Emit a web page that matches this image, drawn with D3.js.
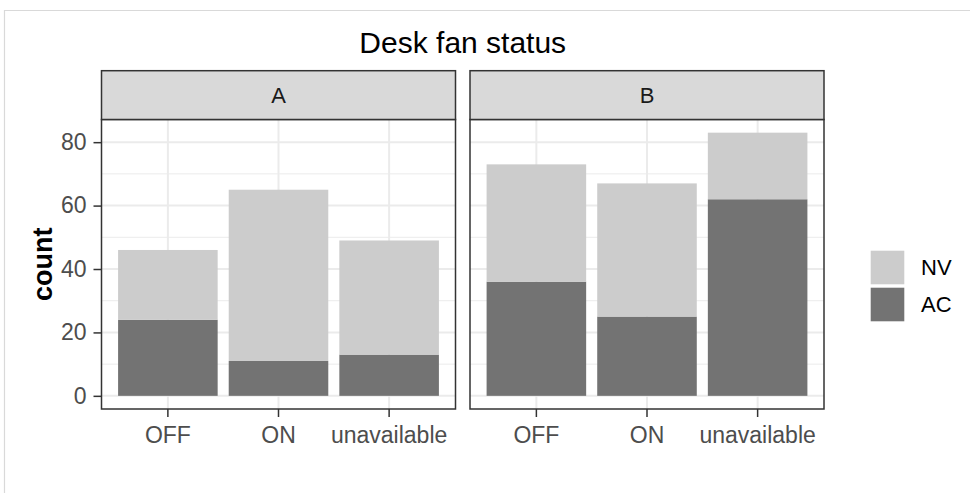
<!DOCTYPE html>
<html>
<head>
<meta charset="utf-8">
<script src="https://cdn.jsdelivr.net/npm/d3@7"></script>
<style>
  html, body { margin: 0; padding: 0; background: #ffffff; }
  svg { display: block; font-family: "Liberation Sans", Arial, sans-serif; }
</style>
</head>
<body>
<svg id="chart" width="970" height="493"></svg>
<script>
// ---- data ----
const title = "Desk fan status";
const panels = ["A", "B"];
const categories = ["OFF", "ON", "unavailable"];
const seriesNames = ["NV", "AC"];          // legend order (top to bottom)
const acA = [24, 11, 13];
const nvA = [22, 54, 36];
const acB = [36, 25, 62];
const nvB = [37, 42, 21];
const yTicks = [0, 20, 40, 60, 80];
const yMinor = [10, 30, 50, 70];
const yLabel = "count";

const panelData = {
  A: { AC: acA, NV: nvA },
  B: { AC: acB, NV: nvB }
};
const colors = { NV: "#CCCCCC", AC: "#737373" };

// ---- layout ----
const svg = d3.select("#chart");
const W = 970, H = 493;
const panelTop = 119.5, panelBottom = 409;
const stripTop = 70.7;
const panelX = { A: [101.5, 455.5], B: [470, 824] };

// outer light frame
svg.append("path")
  .attr("d", `M4.5,${H} L4.5,10.5 L${W},10.5`)
  .attr("fill", "none").attr("stroke", "#D9D9D9").attr("stroke-width", 1.2);

// y scale
const totals = categories.map((c, i) => panels.map(p => panelData[p].AC[i] + panelData[p].NV[i])).flat();
const yMax = d3.max(totals);
const pad = yMax * 0.05;
const y = d3.scaleLinear().domain([-pad, yMax + pad]).range([panelBottom, panelTop]);

// title
svg.append("text")
  .attr("x", (panelX.A[0] + panelX.B[1]) / 2).attr("y", 52.5)
  .attr("text-anchor", "middle").attr("font-size", 30).attr("fill", "#000")
  .text(title);

// y axis label
svg.append("text")
  .attr("transform", `translate(52,${(panelTop + panelBottom) / 2}) rotate(-90)`)
  .attr("text-anchor", "middle").attr("font-size", 27).attr("font-weight", "bold").attr("fill", "#000")
  .text(yLabel);

panels.forEach((p, pi) => {
  const [x0, x1] = panelX[p];
  const x = d3.scaleBand().domain(categories).range([x0, x1]).paddingInner(0.1).paddingOuter(0.15);
  const g = svg.append("g");

  // minor grid
  g.selectAll(".ymin").data(yMinor).enter().append("line")
    .attr("x1", x0).attr("x2", x1).attr("y1", d => y(d)).attr("y2", d => y(d))
    .attr("stroke", "#EBEBEB").attr("stroke-width", 1);
  // major grid
  g.selectAll(".ymaj").data(yTicks).enter().append("line")
    .attr("x1", x0).attr("x2", x1).attr("y1", d => y(d)).attr("y2", d => y(d))
    .attr("stroke", "#EBEBEB").attr("stroke-width", 2);
  g.selectAll(".xmaj").data(categories).enter().append("line")
    .attr("x1", d => x(d) + x.bandwidth() / 2).attr("x2", d => x(d) + x.bandwidth() / 2)
    .attr("y1", panelTop).attr("y2", panelBottom)
    .attr("stroke", "#EBEBEB").attr("stroke-width", 2);

  // stacked bars: AC at bottom, NV on top
  const rows = categories.map((c, i) => ({ cat: c, AC: panelData[p].AC[i], NV: panelData[p].NV[i] }));
  const stack = d3.stack().keys(["AC", "NV"])(rows);
  stack.forEach(layer => {
    g.selectAll(null).data(layer).enter().append("rect")
      .attr("x", d => x(d.data.cat))
      .attr("width", x.bandwidth())
      .attr("y", d => y(d[1]))
      .attr("height", d => y(d[0]) - y(d[1]))
      .attr("fill", colors[layer.key]);
  });

  // panel border
  g.append("rect").attr("x", x0).attr("y", panelTop).attr("width", x1 - x0).attr("height", panelBottom - panelTop)
    .attr("fill", "none").attr("stroke", "#333333").attr("stroke-width", 1.5);

  // strip
  g.append("rect").attr("x", x0).attr("y", stripTop).attr("width", x1 - x0).attr("height", panelTop - stripTop)
    .attr("fill", "#D9D9D9").attr("stroke", "#333333").attr("stroke-width", 1.5);
  g.append("text").attr("x", (x0 + x1) / 2).attr("y", (stripTop + panelTop) / 2)
    .attr("dy", "0.36em").attr("text-anchor", "middle").attr("font-size", 22).attr("fill", "#1A1A1A")
    .text(p);

  // x axis
  const xa = svg.append("g").attr("transform", `translate(0,${panelBottom})`)
    .call(d3.axisBottom(x).tickSize(8).tickPadding(10).tickSizeOuter(0));
  xa.select(".domain").remove();
  xa.selectAll(".tick line").attr("stroke", "#333333").attr("stroke-width", 1.5);
  xa.selectAll(".tick text").attr("font-size", 23).attr("fill", "#4D4D4D")
    .attr("font-family", "Liberation Sans, Arial, sans-serif");

  // y axis on first panel only
  if (pi === 0) {
    const ya = svg.append("g").attr("transform", `translate(${x0},0)`)
      .call(d3.axisLeft(y).tickValues(yTicks).tickSize(8).tickPadding(7));
    ya.select(".domain").remove();
    ya.selectAll(".tick line").attr("stroke", "#333333").attr("stroke-width", 1.5);
    ya.selectAll(".tick text").attr("font-size", 23).attr("fill", "#4D4D4D")
      .attr("font-family", "Liberation Sans, Arial, sans-serif");
  }
});

// legend
const legX = 869, legY = 249, cell = 37;
const leg = svg.append("g").attr("transform", `translate(${legX},${legY})`);
seriesNames.forEach((s, i) => {
  leg.append("rect").attr("x", 1.7).attr("y", i * cell + 1.7)
    .attr("width", cell - 3.4).attr("height", cell - 3.4).attr("fill", colors[s]);
  leg.append("text").attr("x", cell + 15).attr("y", i * cell + cell / 2)
    .attr("dy", "0.36em").attr("font-size", 22).attr("fill", "#000").text(s);
});
</script>
</body>
</html>
